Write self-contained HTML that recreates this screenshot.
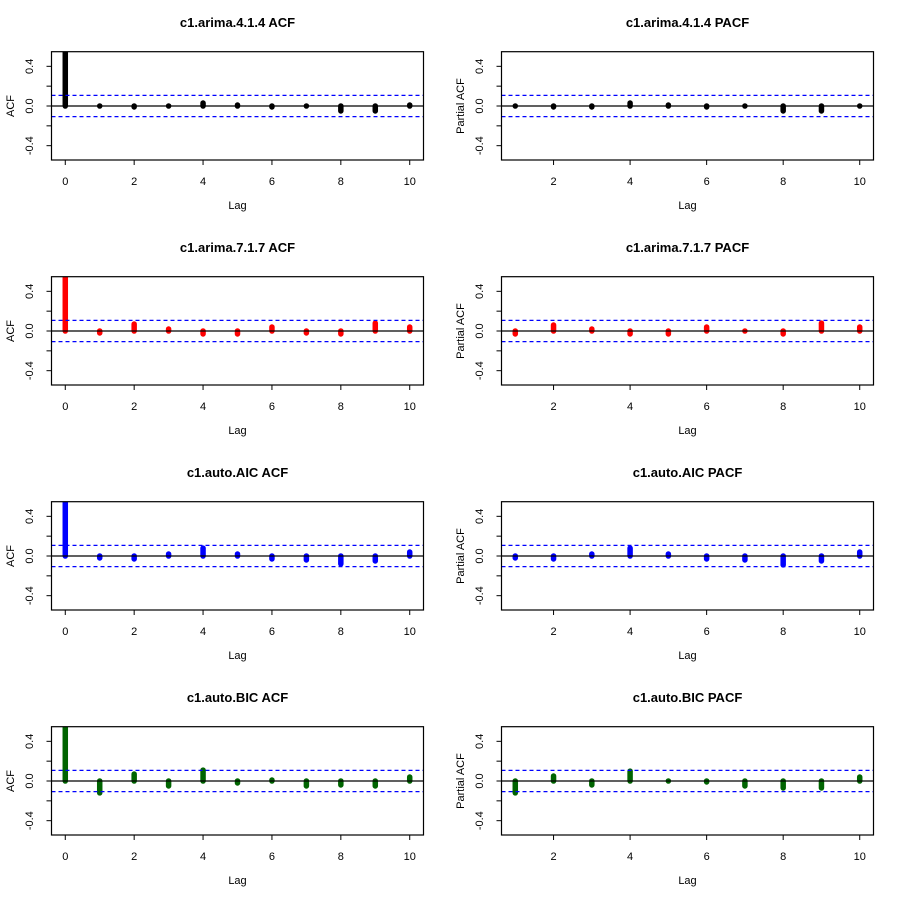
<!DOCTYPE html>
<html><head><meta charset="utf-8"><style>
html,body{margin:0;padding:0;background:#fff;}
svg{display:block;font-family:"Liberation Sans",Arial,sans-serif;}
</style></head><body>
<svg id="chart" width="900" height="900" viewBox="0 0 900 900"></svg>
<script>
const titles = ["c1.arima.4.1.4","c1.arima.7.1.7","c1.auto.AIC","c1.auto.BIC"];
const colors = ["#000000","#ff0000","#0000ff","#006400"];
const acf1 = [1,0.0,-0.01,0.0,0.03,0.01,-0.01,0.0,-0.05,-0.05,0.01];
const pacf1 = [0.0,-0.01,-0.01,0.03,0.01,-0.01,0.0,-0.05,-0.05,0.0];
const acf2 = [1,-0.02,0.07,0.02,-0.03,-0.03,0.04,-0.02,-0.03,0.08,0.04];
const pacf2 = [-0.03,0.06,0.02,-0.03,-0.03,0.04,0.0,-0.03,0.08,0.04];
const acf3 = [1,-0.02,-0.03,0.02,0.08,0.02,-0.03,-0.04,-0.08,-0.05,0.04];
const pacf3 = [-0.02,-0.03,0.02,0.08,0.02,-0.03,-0.04,-0.09,-0.05,0.04];
const acf4 = [1,-0.12,0.07,-0.05,0.11,-0.02,0.01,-0.05,-0.04,-0.05,0.04];
const pacf4 = [-0.12,0.05,-0.04,0.1,0.0,-0.01,-0.05,-0.07,-0.07,0.04];
const ci = 0.107;
const yTicks = [-0.4,-0.2,0,0.2,0.4];
const yTickLabels = ["-0.4","","0.0","","0.4"];
const xTicks = [0,2,4,6,8,10];

const acfs=[acf1,acf2,acf3,acf4], pacfs=[pacf1,pacf2,pacf3,pacf4];
const svg=document.getElementById('chart');
const NS="http://www.w3.org/2000/svg";
function mk(tag,attrs,parent){const e=document.createElementNS(NS,tag);for(const k in attrs)e.setAttribute(k,attrs[k]);(parent||svg).appendChild(e);return e;}

function panel(r,c){
  const ox=c*450, oy=r*225;
  const L=ox+51.5,R=ox+423.5,T=oy+51.7,B=oy+160;
  const isP=c===1;
  const vals=isP?pacfs[r]:acfs[r];
  const lags=vals.map((v,i)=>isP?i+1:i);
  const xmin=isP?0.64:-0.4, xmax=isP?10.36:10.4;
  const X=v=>L+(v-xmin)/(xmax-xmin)*(R-L);
  const Y=v=>oy+106-v*99.2;
  const g=mk('g',{});
  
  
  const t=mk('text',{x:ox+237.5,y:oy+27,'text-anchor':'middle','font-size':'13','font-weight':'bold'},g);
  t.textContent=titles[r]+(isP?' PACF':' ACF');
  
  
  const cid='clip'+r+c;
  const cp=mk('clipPath',{id:cid},g);mk('rect',{x:L,y:T,width:R-L,height:B-T},cp);
  const marks=mk('g',{'clip-path':'url(#'+cid+')'},g);
  vals.forEach((v,i)=>{
    const ln=mk('line',{x1:X(lags[i]),x2:X(lags[i]),y1:Y(0),y2:Y(v),stroke:colors[r],'stroke-width':5.5,'stroke-linecap':'round'},marks);
    
    
  });
  const z=mk('line',{x1:L,x2:R,y1:Y(0),y2:Y(0),stroke:'#000','stroke-width':1.3},g);
  
  
  [ci,-ci].forEach(v=>{
    const d=mk('line',{x1:L,x2:R,y1:Y(v),y2:Y(v),stroke:'#0000ff','stroke-width':1.2,'stroke-dasharray':'4,3'},g);
    
    
  });
  const box=mk('rect',{x:L,y:T,width:R-L,height:B-T,fill:'none',stroke:'#000','stroke-width':1.2},g);
  
  
  const xt=isP?xTicks.filter(v=>v>0):xTicks;
  xt.forEach(v=>{
    mk('line',{x1:X(v),x2:X(v),y1:B,y2:B+5,stroke:'#000','stroke-width':1},g);
    const tl=mk('text',{x:X(v),y:oy+185,'text-anchor':'middle','font-size':'11'},g);
    tl.textContent=v;
    
    
  });
  yTicks.forEach((v,i)=>{
    mk('line',{x1:L,x2:L-5,y1:Y(v),y2:Y(v),stroke:'#000','stroke-width':1},g);
    if(yTickLabels[i]){
      const tl=mk('text',{x:0,y:0,'text-anchor':'middle','font-size':'11',transform:`translate(${ox+37-4},${Y(v)}) rotate(-90)`},g);
      tl.textContent=yTickLabels[i];
      
      
    }
  });
  const xl=mk('text',{x:ox+237.5,y:oy+209,'text-anchor':'middle','font-size':'11'},g);
  xl.textContent='Lag';
  
  
  const yl=mk('text',{x:0,y:0,'text-anchor':'middle','font-size':'11',transform:`translate(${ox+14},${oy+106}) rotate(-90)`},g);
  yl.textContent=isP?'Partial ACF':'ACF';
  
  
}
for(let r=0;r<4;r++)for(let c=0;c<2;c++)panel(r,c);
</script>
</body></html>
